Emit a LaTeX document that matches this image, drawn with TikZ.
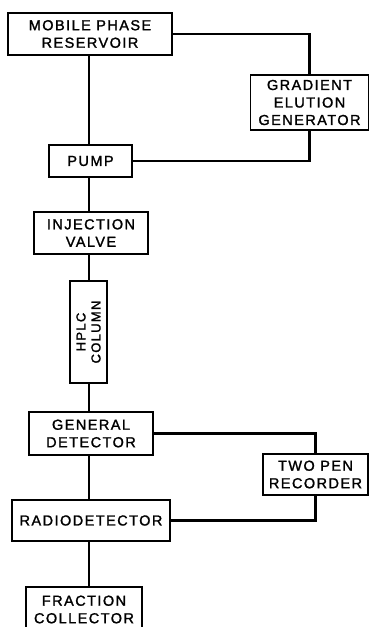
\documentclass[tikz,border=0pt]{standalone}
\usepackage{fontspec}
\newfontfamily\lblfont{Liberation Sans}[LetterSpace=10,FakeBold=1.5]
\begin{document}
\begin{tikzpicture}[x=1pt,y=1pt,
  blk/.style={draw,line width=1.3pt,inner sep=0pt,align=center,
    font=\lblfont\fontsize{14.5}{17.5}\selectfont},
  pipe/.style={line width=2.8pt}]
\useasboundingbox (0,0) rectangle (370,627);
\node[blk,minimum width=164,minimum height=42] (res) at (90,593) {MOBILE PHASE\\RESERVOIR};
\node[blk,minimum width=118,minimum height=55] (grad) at (309.5,524.5) {GRADIENT\\ELUTION\\GENERATOR};
\node[blk,minimum width=83,minimum height=32] (pump) at (90.5,466) {PUMP};
\node[blk,minimum width=114,minimum height=42] (inj) at (91,394) {INJECTION\\VALVE};
\node[blk,minimum width=37,minimum height=102] (hplc) at (88.5,295) {};
\node[rotate=90,align=center,inner sep=0pt,font=\lblfont\fontsize{13}{15}\selectfont] (hplct) at (hplc.center) {HPLC\\COLUMN};
\node[blk,minimum width=124,minimum height=43] (gd) at (91,193.5) {GENERAL\\DETECTOR};
\node[blk,minimum width=105,minimum height=41] (tpr) at (315.5,152.5) {TWO PEN\\RECORDER};
\node[blk,minimum width=158,minimum height=41] (rad) at (91,106.5) {RADIODETECTOR};
\node[blk,minimum width=116,minimum height=45] (frac) at (84,17.5) {FRACTION\\COLLECTOR};
\coordinate (t) at (89,0);
\draw[pipe] (res.south -| t) -- (pump.north -| t);
\draw[pipe] (pump.south -| t) -- (inj.north -| t);
\draw[pipe] (inj.south -| t) -- (hplc.north -| t);
\draw[pipe] (hplc.south -| t) -- (gd.north -| t);
\draw[pipe] (gd.south -| t) -- (rad.north -| t);
\draw[pipe] (rad.south -| t) -- (frac.north -| t);
\draw[pipe] (res.east) -| (grad.north);
\draw[pipe] (grad.south) |- (pump.east);
\draw[pipe] (gd.east) -| (tpr.north);
\draw[pipe] (rad.east) -| (tpr.south);
\end{tikzpicture}
\end{document}
